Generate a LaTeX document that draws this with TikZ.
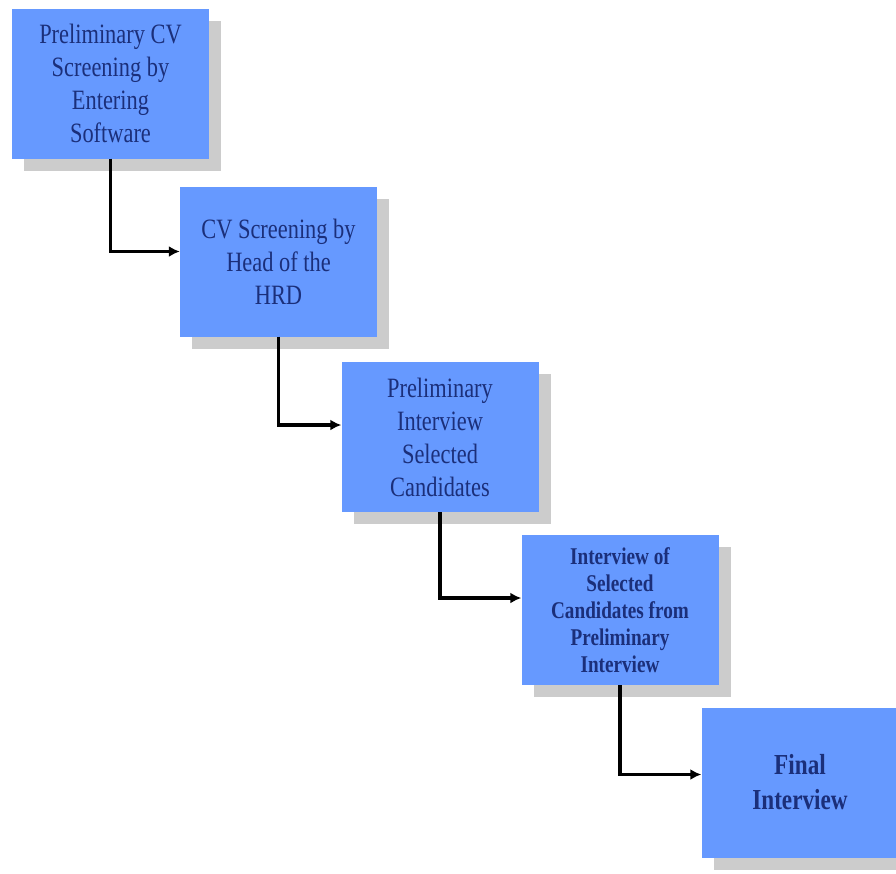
\documentclass[tikz,border=0pt]{standalone}
\usepackage{fontspec}
\newfontfamily\boxfont{Liberation Serif}[FakeStretch=0.8]
\usetikzlibrary{arrows.meta,shadows}
\definecolor{boxblue}{HTML}{6699FF}
\definecolor{boxtext}{HTML}{1B2F7A}
\tikzset{
    stage/.style={rectangle, fill=boxblue, text=boxtext, minimum width=197pt, minimum height=150pt, align=center, inner sep=0,
        drop shadow={shadow xshift=12pt, shadow yshift=-12pt, fill=gray!40, opacity=1},
        font=\boxfont\fontsize{28}{33}\selectfont},
    stagebold/.style={stage, font=\boxfont\bfseries\fontsize{24}{27}\selectfont},
    flow/.style={line width=3.2pt, -{Latex[length=11pt,width=11pt]}}
}

\begin{document}
\begin{tikzpicture}[x=1pt,y=-1pt]
    \useasboundingbox[fill=white] (0,0) rectangle (896,873);
    \node[stage] (b1) at (110.5,83.5) {Preliminary CV\\Screening by\\Entering\\Software};
    \node[stage] (b2) at (278.5,261.5) {CV Screening by\\Head of the\\HRD};
    \node[stage] (b3) at (440,437) {Preliminary\\Interview\\Selected\\Candidates};
    \node[stagebold] (b4) at (620,610) {Interview of\\Selected\\Candidates from\\Preliminary\\Interview};
    \node[stagebold, font=\boxfont\bfseries\fontsize{29}{35}\selectfont] (b5) at (800,782.5) {Final\\Interview};

    \draw[flow] (b1.south) |- ([yshift=10pt]b2.west);
    \draw[flow] (b2.south) |- ([yshift=12pt]b3.west);
    \draw[flow] (b3.south) |- ([yshift=12pt]b4.west);
    \draw[flow] (b4.south) |- ([yshift=8pt]b5.west);
\end{tikzpicture}
\end{document}
